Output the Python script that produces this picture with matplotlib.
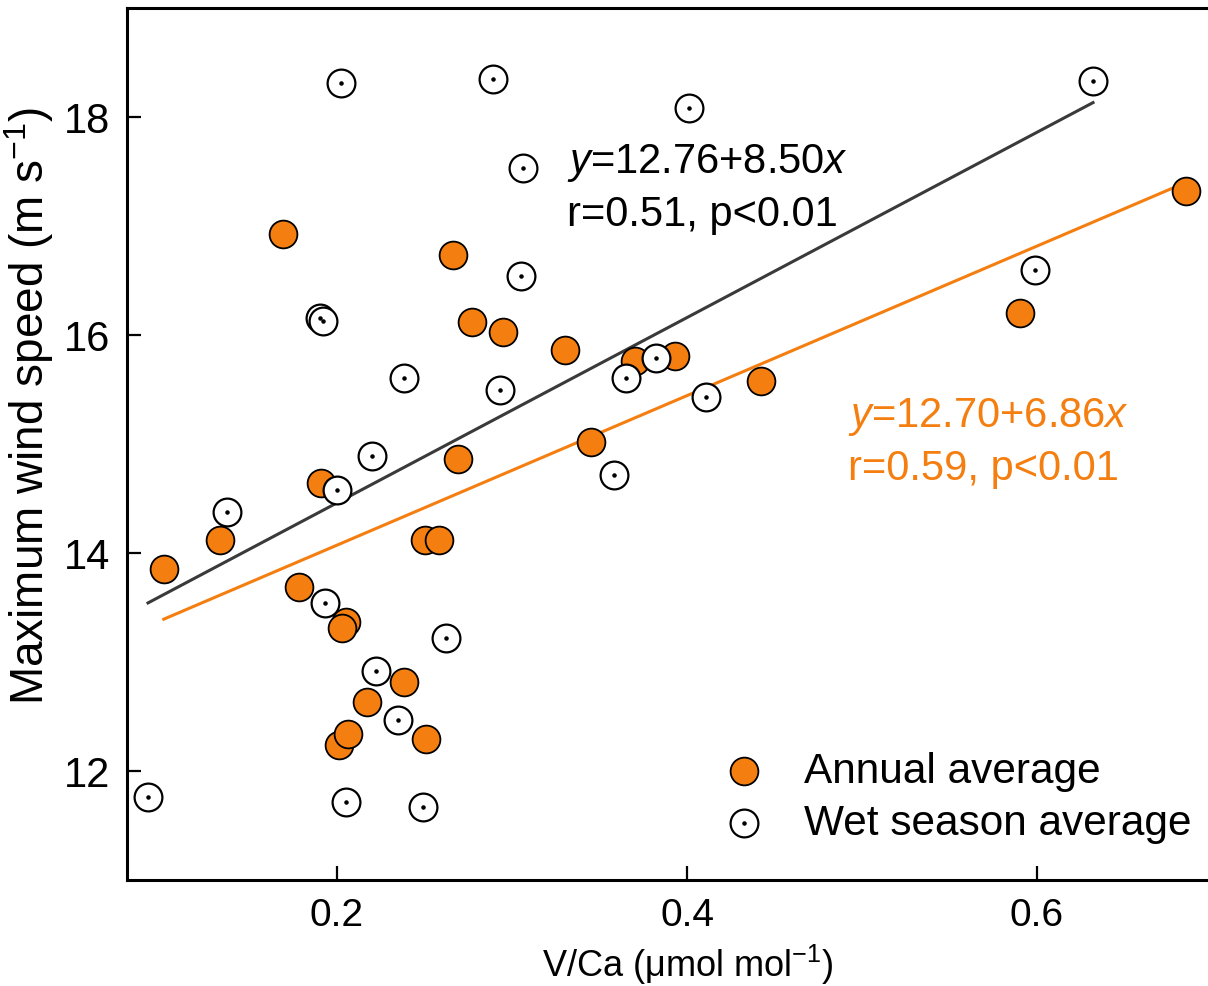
import matplotlib
matplotlib.use("Agg")
import numpy as np
import matplotlib.pyplot as plt
from matplotlib.legend_handler import HandlerTuple

# annual average (orange, filled)
annual_x = [0.101, 0.133, 0.169, 0.178, 0.191, 0.205, 0.203, 0.201, 0.206, 0.217,
            0.238, 0.251, 0.250, 0.258, 0.266, 0.269, 0.277, 0.295, 0.330, 0.345,
            0.370, 0.393, 0.442, 0.590, 0.685]
annual_y = [13.85, 14.12, 16.93, 13.69, 14.64, 13.37, 13.31, 12.24, 12.34, 12.63,
            12.82, 12.29, 14.12, 14.12, 16.73, 14.86, 16.12, 16.03, 15.86, 15.02,
            15.76, 15.81, 15.58, 16.20, 17.32]

# wet season average (open circle with dot)
wet_x = [0.092, 0.137, 0.202, 0.190, 0.192, 0.200, 0.193, 0.205, 0.220, 0.222,
         0.235, 0.238, 0.249, 0.262, 0.289, 0.293, 0.306, 0.305, 0.358, 0.365,
         0.382, 0.401, 0.411, 0.599, 0.632]
wet_y = [11.76, 14.38, 18.31, 16.16, 16.13, 14.58, 13.54, 11.72, 14.89, 12.92,
         12.47, 15.61, 11.67, 13.22, 18.35, 15.50, 17.53, 16.54, 14.72, 15.61,
         15.79, 18.08, 15.43, 16.60, 18.33]

wet_fit = (12.76, 8.50)
annual_fit = (12.70, 6.86)

orange = "#F47F10"
dark = "#3a3a3a"

plt.rcParams["font.family"] = ["Liberation Sans", "DejaVu Sans"]
plt.rcParams["mathtext.fontset"] = "custom"
plt.rcParams["mathtext.rm"] = "Liberation Sans"
plt.rcParams["mathtext.it"] = "Liberation Sans:italic"

fig = plt.figure(figsize=(12.08, 9.87), dpi=100)
ax = fig.add_axes([127 / 1208, 106 / 987, 1 - 127 / 1208, 872 / 987])

# regression lines over each series' range
for xs, (a, b), col in [(wet_x, wet_fit, dark), (annual_x, annual_fit, orange)]:
    lx = np.array([min(xs), max(xs)])
    ax.plot(lx, a + b * lx, color=col, lw=2.2, zorder=1)

ax.scatter(annual_x, annual_y, s=400, color=orange, edgecolor="black",
           linewidth=1.3, zorder=3)
ax.scatter(wet_x, wet_y, s=400, facecolor="white", edgecolor="black",
           linewidth=1.6, zorder=4)
ax.scatter(wet_x, wet_y, s=5, color="black", zorder=5)

fs = 30
ax.text(0.407, 0.812, r"$\mathit{y}$=12.76+8.50$\mathit{x}$", transform=ax.transAxes,
        fontsize=fs, color="black", va="baseline")
ax.text(0.407, 0.751, "r=0.51, p<0.01", transform=ax.transAxes,
        fontsize=fs, color="black", va="baseline")
ax.text(0.667, 0.5206, r"$\mathit{y}$=12.70+6.86$\mathit{x}$", transform=ax.transAxes,
        fontsize=fs, color=orange, va="baseline")
ax.text(0.667, 0.460, "r=0.59, p<0.01", transform=ax.transAxes,
        fontsize=fs, color=orange, va="baseline")

h_annual = ax.scatter([], [], s=400, color=orange, edgecolor="black", linewidth=1.3)
h_wet1 = ax.scatter([], [], s=400, facecolor="white", edgecolor="black", linewidth=1.6)
h_wet2 = ax.scatter([], [], s=5, color="black")
ax.legend([h_annual, (h_wet1, h_wet2)], ["Annual average", "Wet season average"],
          handler_map={tuple: HandlerTuple(ndivide=1, pad=0)},
          loc="lower right", bbox_to_anchor=(1.012, 0.008), frameon=False,
          fontsize=30.5, handletextpad=0.61, labelspacing=0.3, borderaxespad=0.3,
          handlelength=1.6)

ax.set_xlim(0.08, 0.6977)
ax.set_ylim(11, 19)
ax.set_xticks([0.2, 0.4, 0.6])
ax.set_yticks([12, 14, 16, 18])
ax.tick_params(direction="in", length=10, width=1.6, pad=12)
ax.tick_params(axis="y", labelsize=30)
ax.tick_params(axis="x", labelsize=28)
for side in ["left", "bottom", "top"]:
    ax.spines[side].set_linewidth(2.2)
ax.spines["right"].set_visible(False)

ax.set_xlabel("V/Ca (\u03bcmol mol$^{-1}$)", fontsize=26)
ax.set_ylabel("Maximum wind speed (m s$^{-1}$)", fontsize=33)
ax.xaxis.set_label_coords(0.519, -0.071)
ax.yaxis.set_label_coords(-0.066, 0.545)

fig.savefig("out.png", dpi=100)
